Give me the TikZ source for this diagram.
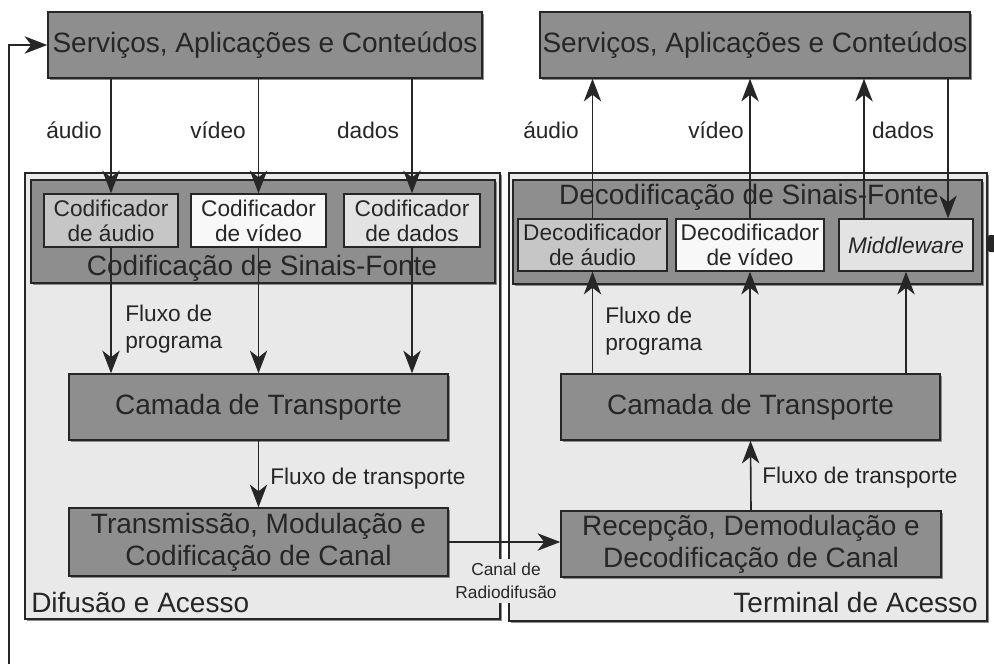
\documentclass[tikz,border=0pt]{standalone}
\usepackage{fontspec}
\setmainfont{Liberation Sans}
\usetikzlibrary{arrows.meta,positioning,fit,shadows}
\definecolor{layerdark}{HTML}{8E8E8E}
\definecolor{arealight}{HTML}{E9E9E9}
\definecolor{codecmid}{HTML}{C6C6C6}
\definecolor{codecpale}{HTML}{E3E3E3}
\definecolor{codecwhite}{HTML}{F8F8F8}
\definecolor{ink}{HTML}{262626}

\begin{document}
\begin{tikzpicture}[
  x=0.75pt, y=-0.75pt,
  >={Stealth[length=17pt,width=13pt,inset=5pt]}, line join=miter,
  every node/.style={text=ink},
  shadowed/.style={drop shadow={shadow xshift=1.6pt, shadow yshift=-1.6pt, fill=black!45, opacity=1}},
  area/.style ={draw=ink, line width=1.1pt, fill=arealight, inner sep=0pt, shadowed},
  layer/.style={draw=ink, line width=1.1pt, fill=layerdark, inner sep=0pt, shadowed},
  codec/.style={draw=ink, line width=1.1pt, inner sep=0pt},
  big/.style  ={inner sep=0pt, align=center, font=\fontsize{21}{24}\selectfont},
  small/.style={inner sep=0pt, align=center, font=\fontsize{17}{18.8}\selectfont},
  lbl/.style  ={inner sep=0pt, font=\fontsize{17}{20}\selectfont, align=left},
  flow/.style ={->, line width=1.2pt, ink}
]

\useasboundingbox[fill=white] (0,0) rectangle (994,664);

% --- outer areas (pixel coordinates of the reference) ----------------
\node[area, fit={(25,173) (500,619)}] (diff) {};
\node[area, fit={(509,173) (987,621)}] (term) {};

% --- services on top
\node[layer, fit={(48,12) (482,78)}]  (svcL) {};
\node[layer, fit={(540,12) (970,78)}] (svcR) {};
\node[big] (svcLT) at (svcL) {Serviços, Aplicações e Conteúdos};
\node[big] (svcRT) at (svcR) {Serviços, Aplicações e Conteúdos};

% --- source coding / decoding
\node[layer, fit={(31,180) (495,283)}]  (srcenc) {};
\node[layer, fit={(513,180) (982,284)}] (srcdec) {};
\node[big, anchor=base] (srcencT) at (262,275) {Codificação de Sinais-Fonte};
\node[big, anchor=base] (srcdecT) at (749,204) {Decodificação de Sinais-Fonte};

\node[codec, fill=codecmid,   fit={(44,194) (178,247)}]  (encA) {};
\node[codec, fill=codecwhite, fit={(191,194) (326,247)}] (encV) {};
\node[codec, fill=codecpale,  fit={(344,194) (480,247)}] (encD) {};
\node[small] at (encA) {Codificador\\de áudio};
\node[small] at (encV) {Codificador\\de vídeo};
\node[small] at (encD) {Codificador\\de dados};

\node[codec, fill=codecmid,   fit={(518,219) (667,271)}] (decA) {};
\node[codec, fill=codecwhite, fit={(676,219) (824,271)}] (decV) {};
\node[codec, fill=codecpale,  fit={(839,219) (973,271)}] (mw) {};
\node[small] at (decA) {Decodificador\\de áudio};
\node[small] at (decV) {Decodificador\\de vídeo};
\node[small] at (mw) {\itshape Middleware};

% --- transport and channel layers
\node[layer, fit={(69,374) (448,440)}]  (transL) {};
\node[layer, fit={(561,374) (940,440)}] (transR) {};
\node[layer, fit={(69,508) (448,576)}]  (txL) {};
\node[layer, fit={(561,511) (941,577)}] (rxR) {};
\node[big] at (transL) {Camada de Transporte};
\node[big] at (transR) {Camada de Transporte};
\node[big] at (txL) {Transmissão, Modulação e\\Codificação de Canal};
\node[big] at (rxR) {Recepção, Demodulação e\\Decodificação de Canal};

% --- labels
\node[lbl, anchor=base] (audL) at (74,138)  {áudio};
\node[lbl, anchor=base] (vidL) at (218,138) {vídeo};
\node[lbl, anchor=base] (datL) at (368,138) {dados};
\node[lbl, anchor=base] (audR) at (551,138) {áudio};
\node[lbl, anchor=base] (vidR) at (716,138) {vídeo};
\node[lbl, anchor=base] (datR) at (903,138) {dados};

% multi-line nodes: base is the last line
\node[lbl, anchor=base west] (progL) at (125,348) {Fluxo de\\programa};
\node[lbl, anchor=base west] (progR) at (605,350) {Fluxo de\\programa};
\node[lbl, anchor=base west] (tsL) at (270,484) {Fluxo de transporte};
\node[lbl, anchor=base west] (tsR) at (762,483) {Fluxo de transporte};

\node[big, anchor=base west] (diffT) at (31,612)  {Difusão e Acesso};
\node[big, anchor=base east] (termT) at (978,612) {Terminal de Acesso};

% --- broadcast side
\foreach \enc in {encA,encV,encD} {
  \draw[flow] (svcL.south -| \enc.north) -- (\enc.north);
  \draw[flow] (\enc.south) -- (transL.north -| \enc.south);
}
\draw[flow] (transL.south) -- (txL.north);

% --- receiver side
\foreach \dec in {decA,decV,mw}
  \draw[flow] (transR.north -| \dec.south) -- (\dec.south);
\foreach \dec in {decA,decV}
  \draw[flow] (\dec.north) -- (svcR.south -| \dec.north);
\coordinate (mwup) at (864,0);
\coordinate (mwdn) at (948,0);
\draw[flow] (mwup |- mw.north) -- (mwup |- svcR.south);
\draw[flow] (mwdn |- svcR.south) -- (mwdn |- mw.north);
\draw[flow] (rxR.north) -- (transR.south);

% --- channel and feedback
\draw[flow] (txL.east) -- (txL.east -| rxR.west);
\node[inner xsep=1pt, inner ysep=3pt, fill=arealight, align=center,
      font=\fontsize{13}{17.3}\selectfont] (chan) at (506,581) {Canal de\\Radiodifusão};

\coordinate (fbfoot) at (9,664);
\draw[flow] (fbfoot) |- (svcL.west);

\fill[ink, rounded corners=1.5pt] (988,235) rectangle (998,252);

\end{tikzpicture}
\end{document}
